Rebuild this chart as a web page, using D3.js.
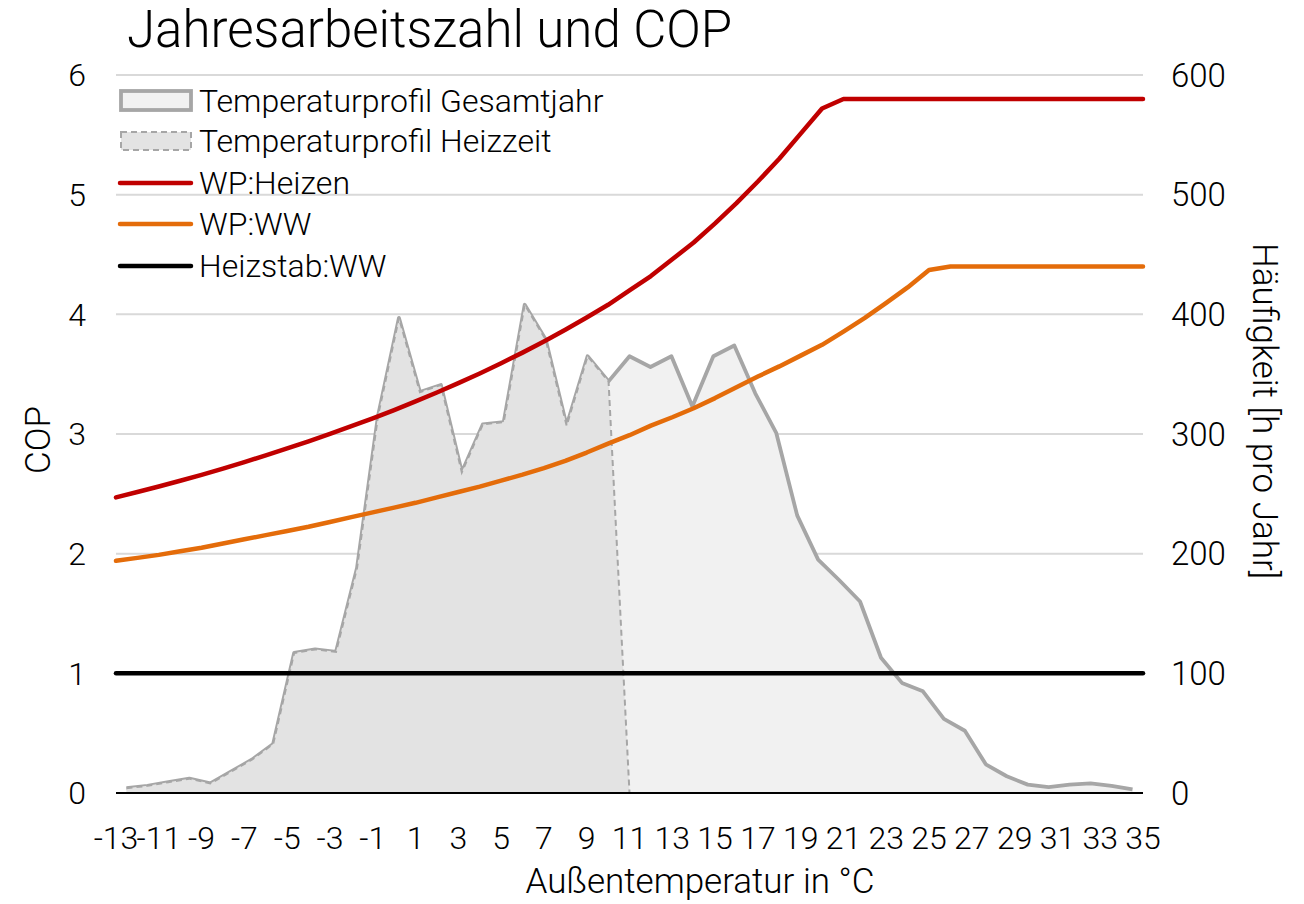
<!DOCTYPE html>
<html><head><meta charset="utf-8">
<script src="https://cdn.jsdelivr.net/npm/d3@7"></script>
<style>
html,body{margin:0;padding:0;background:#fff;}
text{font-family:Roboto,"Liberation Sans",Arial,sans-serif;font-weight:300;fill:#000;}
</style></head>
<body>
<svg id="chart" width="1304" height="904"></svg>
<script>
// ---- data ----
const temps = [-13,-12,-11,-10,-9,-8,-7,-6,-5,-4,-3,-2,-1,0,1,2,3,4,5,6,7,8,9,10,11,12,13,14,15,16,17,18,19,20,21,22,23,24,25,26,27,28,29,30,31,32,33,34,35];
const profilGesamtjahr = [4,6,9,12,8,18,28,41,117,120,118,188,315,397,335,341,268,308,310,408,379,307,365,344,365,356,365,323,365,374,334,301,232,195,178,160,113,92,85,62,52,24,14,7,5,7,8,6,3];
const profilHeizzeit = [4,6,9,12,8,18,28,41,117,120,118,188,315,397,335,341,268,308,310,408,379,307,365,344,0,null,null,null,null,null,null,null,null,null,null,null,null,null,null,null,null,null,null,null,null,null,null,null,null];
const wpHeizen = [2.47,2.515,2.561,2.609,2.659,2.711,2.765,2.821,2.879,2.939,3.001,3.065,3.131,3.2,3.272,3.347,3.425,3.506,3.591,3.68,3.773,3.871,3.974,4.08,4.2,4.32,4.46,4.6,4.76,4.93,5.11,5.3,5.51,5.72,5.8,5.8,5.8,5.8,5.8,5.8,5.8,5.8,5.8,5.8,5.8,5.8,5.8,5.8,5.8];
const wpWW = [1.94,1.965,1.99,2.02,2.05,2.085,2.12,2.155,2.19,2.225,2.265,2.305,2.345,2.385,2.425,2.47,2.515,2.56,2.61,2.66,2.715,2.775,2.845,2.92,2.99,3.07,3.14,3.215,3.3,3.39,3.48,3.565,3.655,3.745,3.855,3.97,4.095,4.225,4.37,4.4,4.4,4.4,4.4,4.4,4.4,4.4,4.4,4.4,4.4];
const heizstabWW = [1,1,1,1,1,1,1,1,1,1,1,1,1,1,1,1,1,1,1,1,1,1,1,1,1,1,1,1,1,1,1,1,1,1,1,1,1,1,1,1,1,1,1,1,1,1,1,1,1];
const copTicks = [0,1,2,3,4,5,6];
const hTicks = [0,100,200,300,400,500,600];
const xTickLabels = [-13,-11,-9,-7,-5,-3,-1,1,3,5,7,9,11,13,15,17,19,21,23,25,27,29,31,33,35];
const legendItems = [
  {name:"Temperaturprofil Gesamtjahr", type:"area"},
  {name:"Temperaturprofil Heizzeit", type:"areaDash"},
  {name:"WP:Heizen", type:"line", color:"#C00000"},
  {name:"WP:WW", type:"line", color:"#E46C0A"},
  {name:"Heizstab:WW", type:"line", color:"#000000"}
];

// ---- layout ----
const L = 116, R = 1143, T = 75, B = 793;
const svg = d3.select("#chart");
const xLine = d3.scalePoint().domain(temps).range([L, R]);
const xArea = d3.scaleBand().domain(temps).range([L, R]).padding(0);
const xa = t => xArea(t) + xArea.bandwidth()/2;
const yCop = d3.scaleLinear().domain([0,6]).range([B, T]);
const yH = d3.scaleLinear().domain([0,600]).range([B, T]);

// gridlines
svg.append("g").selectAll("line").data(copTicks.filter(d=>d>0)).join("line")
  .attr("x1", L).attr("x2", R).attr("y1", d=>yCop(d)).attr("y2", d=>yCop(d))
  .attr("stroke", "#d9d9d9").attr("stroke-width", 2);

// areas
const gesamt = temps.map((t,i)=>({t, v: profilGesamtjahr[i]}));
const heiz = temps.map((t,i)=>({t, v: profilHeizzeit[i]}));
const areaGen = d3.area().defined(d=>d.v!=null).x(d=>xa(d.t)).y0(yH(0)).y1(d=>yH(d.v));
const lineArea = d3.line().defined(d=>d.v!=null).x(d=>xa(d.t)).y(d=>yH(d.v));

svg.append("path").attr("d", areaGen(gesamt)).attr("fill", "#f1f1f1");
svg.append("path").attr("d", lineArea(gesamt)).attr("fill","none").attr("stroke","#a6a6a6").attr("stroke-width",3.8).attr("stroke-linejoin","round");
svg.append("path").attr("d", areaGen(heiz)).attr("fill", "#e3e3e3");
svg.append("path").attr("d", lineArea(heiz)).attr("fill","none").attr("stroke","#a6a6a6").attr("stroke-width",2).attr("stroke-dasharray","6,4");

// x axis line
svg.append("line").attr("x1", L).attr("x2", R).attr("y1", yCop(0)).attr("y2", yCop(0))
  .attr("stroke", "#000").attr("stroke-width", 2.2);

// COP lines
const lineCop = d3.line().x(d=>xLine(d.t)).y(d=>yCop(d.v));
[[heizstabWW,"#000000"],[wpWW,"#E46C0A"],[wpHeizen,"#C00000"]].forEach(([arr,col])=>{
  svg.append("path").attr("d", lineCop(temps.map((t,i)=>({t, v: arr[i]}))))
    .attr("fill","none").attr("stroke",col).attr("stroke-width",4.5)
    .attr("stroke-linejoin","round").attr("stroke-linecap","round");
});

// left axis labels
svg.append("g").selectAll("text").data(copTicks).join("text")
  .attr("x", 86).attr("y", d=>yCop(d)).attr("dy","0.35em").attr("text-anchor","end")
  .attr("font-size", 32).text(d=>d);
// right axis labels
svg.append("g").selectAll("text").data(hTicks).join("text")
  .attr("x", 1171).attr("y", d=>yH(d)).attr("dy","0.35em").attr("text-anchor","start")
  .attr("font-size", 33).text(d=>d);
// x labels
svg.append("g").selectAll("text").data(xTickLabels).join("text")
  .attr("x", d=>xLine(d)).attr("y", 849).attr("text-anchor","middle")
  .attr("font-size", 32).text(d=>d);

// axis titles
svg.append("text").attr("x", 700).attr("y", 893).attr("text-anchor","middle")
  .attr("font-size", 35).text("Außentemperatur in °C");
svg.append("text").attr("transform","translate(50,440) rotate(-90)").attr("text-anchor","middle")
  .attr("font-size", 35).text("COP");
svg.append("text").attr("transform","translate(1253,411) rotate(90)").attr("text-anchor","middle")
  .attr("font-size", 35).text("Häufigkeit [h pro Jahr]");

// title
svg.append("text").attr("x", 127).attr("y", 47).attr("font-size", 51).text("Jahresarbeitszahl und COP");

// legend
const lg = svg.append("g");
const rowY = [101, 141, 183, 224, 266];
legendItems.forEach((it, i) => {
  const y = rowY[i];
  if (it.type === "area") {
    lg.append("rect").attr("x", 121).attr("y", y-10).attr("width", 70).attr("height", 19)
      .attr("fill", "#f1f1f1").attr("stroke", "#a6a6a6").attr("stroke-width", 3.8);
  } else if (it.type === "areaDash") {
    lg.append("rect").attr("x", 121).attr("y", y-9).attr("width", 70).attr("height", 18)
      .attr("fill", "#e3e3e3").attr("stroke", "#a6a6a6").attr("stroke-width", 2).attr("stroke-dasharray","6,4");
  } else {
    lg.append("line").attr("x1", 120).attr("x2", 191).attr("y1", y).attr("y2", y)
      .attr("stroke", it.color).attr("stroke-width", 4.5).attr("stroke-linecap","round");
  }
  lg.append("text").attr("x", 199).attr("y", y).attr("dy","0.35em").attr("font-size", 32).text(it.name);
});
</script>
</body></html>
